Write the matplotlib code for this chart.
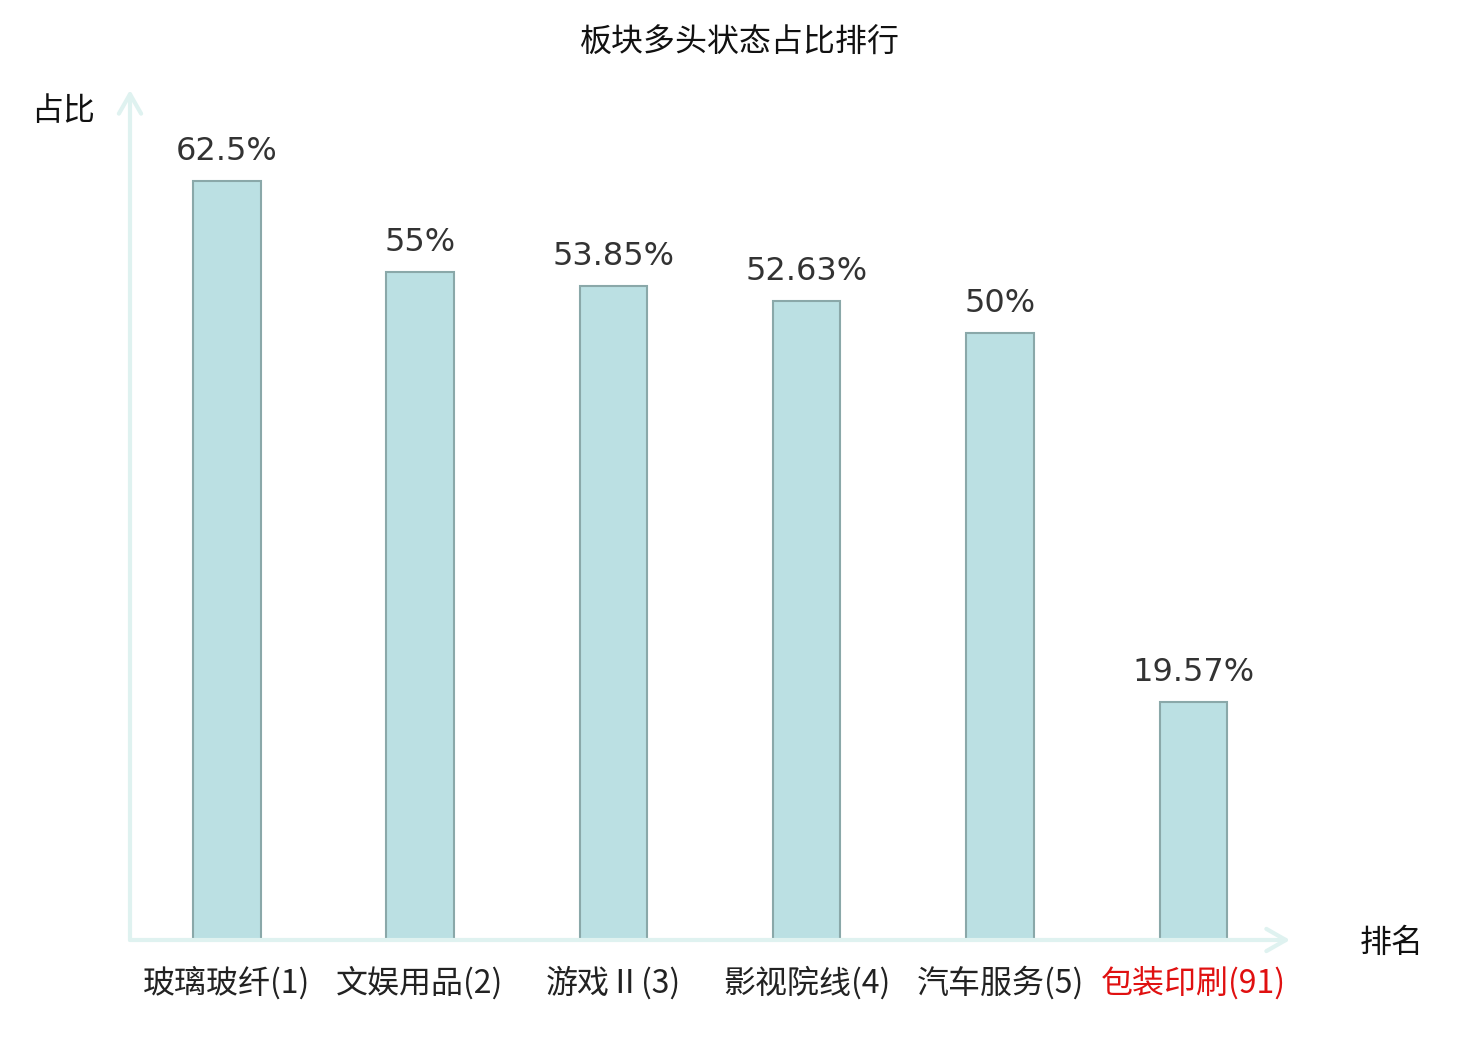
import matplotlib
matplotlib.use('Agg')
import matplotlib.pyplot as plt

plt.rcParams['font.family'] = ['Noto Sans CJK SC', 'DejaVu Sans']

# Data
sectors = ['玻璃玻纤(1)', '文娱用品(2)', '游戏Ⅱ(3)', '影视院线(4)', '汽车服务(5)', '包装印刷(91)']
shares = [62.5, 55, 53.85, 52.63, 50, 19.57]
share_labels = ['62.5%', '55%', '53.85%', '52.63%', '50%', '19.57%']
label_colors = ['#222222'] * 5 + ['#e01010']

fig = plt.figure(figsize=(14.8, 10.4), dpi=100)
ax = fig.add_axes([130 / 1480, 100 / 1040, 1160 / 1480, 850 / 1040])

x = list(range(len(sectors)))
bars = ax.bar(x, shares, width=0.35, color='#bbe0e3', edgecolor='#8aa8a9', linewidth=1.5, zorder=3)

ax.set_xlim(-0.5, len(sectors) - 0.5)
ax.set_ylim(0, 70)

for s in ax.spines.values():
    s.set_visible(False)
ax.set_yticks([])
ax.set_xticks(x)
ax.set_xticklabels(sectors, fontsize=23, fontweight='light')
ax.tick_params(axis='x', length=0, pad=19)
for lbl, c in zip(ax.get_xticklabels(), label_colors):
    lbl.set_color(c)

# axis lines with arrow heads
axis_col = '#dff2f0'
arrow = dict(arrowstyle='->,head_length=0.7,head_width=0.4', color=axis_col, lw=3,
             mutation_scale=20, shrinkA=0, shrinkB=0)
ax.annotate('', xy=(0, 1), xytext=(0, 0), xycoords='axes fraction', arrowprops=arrow)
ax.annotate('', xy=(1, 0), xytext=(0, 0), xycoords='axes fraction', arrowprops=arrow)

# value labels
for bar, txt in zip(bars, share_labels):
    ax.annotate(txt, (bar.get_x() + bar.get_width() / 2, bar.get_height()),
                xytext=(0, 10), textcoords='offset points', ha='center', va='bottom',
                fontsize=23, color='#333333', family='DejaVu Sans')

fig.text(0.5, 1 - 43 / 1040, '板块多头状态占比排行', ha='center', va='center', fontsize=23, color='#111111')
fig.text(63 / 1480, 1 - 111 / 1040, '占比', ha='center', va='center', fontsize=23, color='#111111')
fig.text(1392 / 1480, 1 - 943 / 1040, '排名', ha='center', va='center', fontsize=23, color='#111111')

fig.savefig('out.png', dpi=100)
